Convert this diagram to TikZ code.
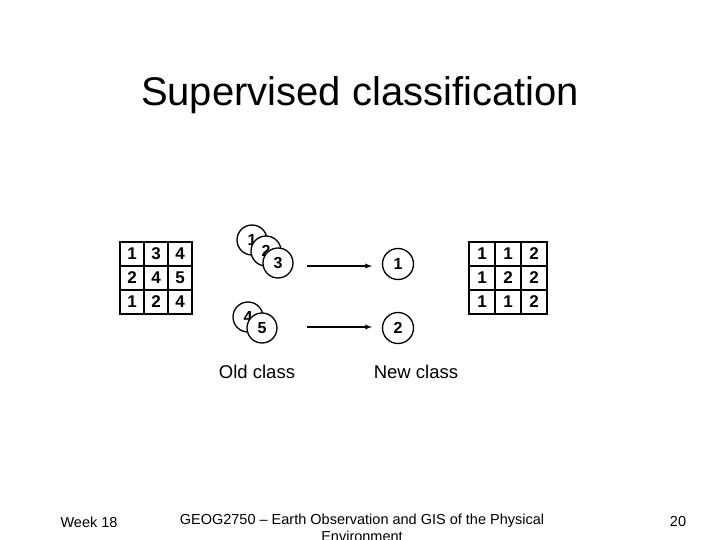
\documentclass[tikz,border=0pt]{standalone}
\usepackage{fontspec}
\setmainfont{Liberation Sans}
\begin{document}
\begin{tikzpicture}[x=1pt,y=-1pt,
  cl/.style={circle,draw,line width=1.3pt,fill=white,minimum size=30pt,inner sep=0pt,font=\fontsize{16}{16}\selectfont\bfseries},
  cell/.style={draw,line width=1.6pt,minimum width=24pt,minimum height=24pt,inner sep=0pt,font=\fontsize{17}{17}\selectfont\bfseries},
  cellr/.style={cell,minimum width=26pt},
  arr/.style={-latex,line width=1.3pt},
  lbl/.style={font=\fontsize{18.5}{18.5}\selectfont},
  ft/.style={font=\fontsize{14.5}{17}\selectfont}]
\useasboundingbox (0,0) rectangle (720,540);
\node[font=\fontsize{40}{40}\selectfont] (title) at (360,95) {Supervised classification};
\foreach \r/\a/\b/\c [count=\i from 0] in {0/1/3/4,1/2/4/5,2/1/2/4}{
  \node[cell] (L\i a) at (132,254+24*\i) {\a};
  \node[cell] (L\i b) at (156,254+24*\i) {\b};
  \node[cell] (L\i c) at (180,254+24*\i) {\c};
}
\foreach \r/\a/\b/\c [count=\i from 0] in {0/1/1/2,1/1/2/2,2/1/1/2}{
  \node[cellr] (R\i a) at (482,254+24*\i) {\a};
  \node[cellr] (R\i b) at (508,254+24*\i) {\b};
  \node[cellr] (R\i c) at (534,254+24*\i) {\c};
}
\node[cl] (c1) at (252,240) {1};
\node[cl] (c2) at (266,251) {2};
\node[cl] (c3) at (278,263) {3};
\node[cl] (c4) at (248,317) {4};
\node[cl] (c5) at (262,328) {5};
\node[cl,minimum size=31pt] (n1) at (398,264) {1};
\node[cl,minimum size=31pt] (n2) at (398,328) {2};
\coordinate (a1s) at (307,266); \coordinate (a1e) at (372,266);
\coordinate (a2s) at (307,327); \coordinate (a2e) at (372,327);
\draw[arr] (a1s) -- (a1e);
\draw[arr] (a2s) -- (a2e);
\node[lbl] (old) at (257,372) {Old class};
\node[lbl] (new) at (416,372) {New class};
\node[ft] (wk) at (89,522) {Week 18};
\node[ft,align=center,anchor=north,inner sep=0pt] (geo) at (362,514) {GEOG2750 – Earth Observation and GIS of the Physical\\Environment};
\node[ft] (pg) at (678,522) {20};
\end{tikzpicture}
\end{document}
